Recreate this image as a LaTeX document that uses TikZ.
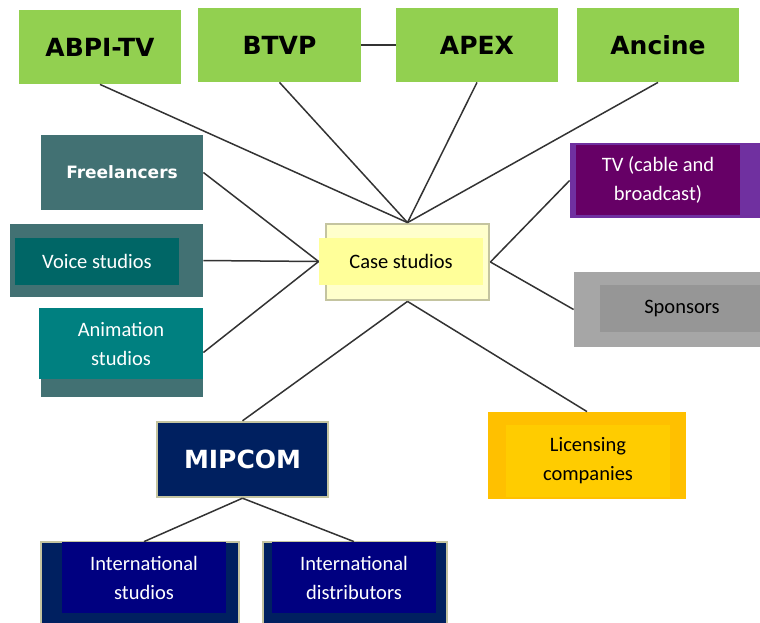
\documentclass[tikz,border=0pt]{standalone}
\usepackage{fontspec}
\setmainfont{Carlito}
\newfontfamily\headfont{DejaVu Sans}

\definecolor{boxgreen}{HTML}{92D050}
\definecolor{slateteal}{HTML}{427173}
\definecolor{darkteal}{HTML}{006666}
\definecolor{teal}{HTML}{008080}
\definecolor{paleyellow}{HTML}{FFFFCC}
\definecolor{lightyellow}{HTML}{FFFF99}
\definecolor{khaki}{HTML}{C4C4A0}
\definecolor{violet}{HTML}{7030A0}
\definecolor{plum}{HTML}{660066}
\definecolor{midgray}{HTML}{A6A6A6}
\definecolor{darkgray}{HTML}{969696}
\definecolor{amber}{HTML}{FFC000}
\definecolor{gold}{HTML}{FFCC00}
\definecolor{deepnavy}{HTML}{002060}
\definecolor{navyblue}{HTML}{000080}

\begin{document}
\begin{tikzpicture}[x=0.5pt, y=-0.5pt,
    box/.style 2 args={rectangle, inner sep=0pt,
        minimum width={#1*0.5pt}, minimum height={#2*0.5pt}},
    head/.style={fill=boxgreen, font=\headfont\bfseries\fontsize{12.5}{15}\selectfont},
    txt/.style={align=center, font=\fontsize{10.25}{14.5}\selectfont},
    link/.style={draw=black!80, line width=0.75pt}]

        \clip (0,0) rectangle (760,622);

        % 1. Top row (associations)
        \node[box={162}{74}, head] (abpi) at (100,47) {ABPI-TV};
        \node[box={163}{74}, head] (btvp) at (279.5,45) {BTVP};
        \node[box={162}{74}, head] (apex) at (477,45) {APEX};
        \node[box={162}{74}, head] (ancine) at (658,45) {Ancine};

        % 2. Centre box
        \node[box={163}{76}, fill=paleyellow, draw=khaki, line width=1.4pt] (case) at (407.5,262) {};
        \node[box={164}{47}, fill=lightyellow, txt] (case-in) at (401,261.5) {Case studios};

        % 3. Left column
        \node[box={162}{75}, fill=slateteal, text=white,
            font=\headfont\bfseries\fontsize{8.5}{10}\selectfont] (free) at (122,172.5) {Freelancers};
        \node[box={193}{73}, fill=slateteal] (voice) at (106.5,260.5) {};
        \node[box={164}{47}, fill=darkteal, text=white, txt] (voice-in) at (97,261.5) {Voice studios};
        \node[box={162}{89}, fill=slateteal] (anim) at (122,352.5) {};
        \node[box={164}{71}, fill=teal, text=white, txt] (anim-in) at (121,343.5) {Animation\\studios};

        % 4. Right column
        \node[box={200}{75}, fill=violet] (tv) at (670,180.5) {};
        \node[box={164}{70}, fill=plum, text=white, txt] (tv-in) at (658,180) {TV (cable and\\broadcast)};
        \node[box={206}{75}, fill=midgray] (spons) at (677,309.5) {};
        \node[box={164}{47}, fill=darkgray, txt] (spons-in) at (682,308.5) {Sponsors};
        \node[box={198}{87}, fill=amber] (lic) at (587,455.5) {};
        \node[box={164}{72}, fill=gold, txt] (lic-in) at (588,461) {Licensing\\companies};

        % 5. MIPCOM branch
        \node[box={171}{75}, fill=deepnavy, draw=khaki, line width=1.2pt, text=white,
            font=\headfont\bfseries\fontsize{12.5}{15}\selectfont] (mip) at (242.5,459.5) {MIPCOM};
        \node[box={198}{98}, fill=deepnavy, draw=khaki, line width=1.2pt] (intst) at (140,591) {};
        \node[box={164}{71}, fill=navyblue, text=white, txt] (intst-in) at (144,577.5) {International\\studios};
        \node[box={184}{98}, fill=deepnavy, draw=khaki, line width=1.2pt] (intdi) at (355,591) {};
        \node[box={164}{71}, fill=navyblue, text=white, txt] (intdi-in) at (354,577.5) {International\\distributors};

        % 6. Connectors
        \draw[link] (btvp.east) -- (apex.west);
        \foreach \n in {abpi,btvp,apex,ancine}
            \draw[link] (\n.south) -- (case.north);
        \foreach \n in {free,voice,anim}
            \draw[link] (\n.east) -- (case-in.west);
        \draw[link] (case.east) -- (tv.west);
        \draw[link] (case.east) -- (spons.west);
        \draw[link] (case.south) -- (lic.north);
        \draw[link] (case.south) -- (mip.north);
        \draw[link] (mip.south) -- (intst-in.north);
        \draw[link] (mip.south) -- (intdi-in.north);
    \end{tikzpicture}
\end{document}
